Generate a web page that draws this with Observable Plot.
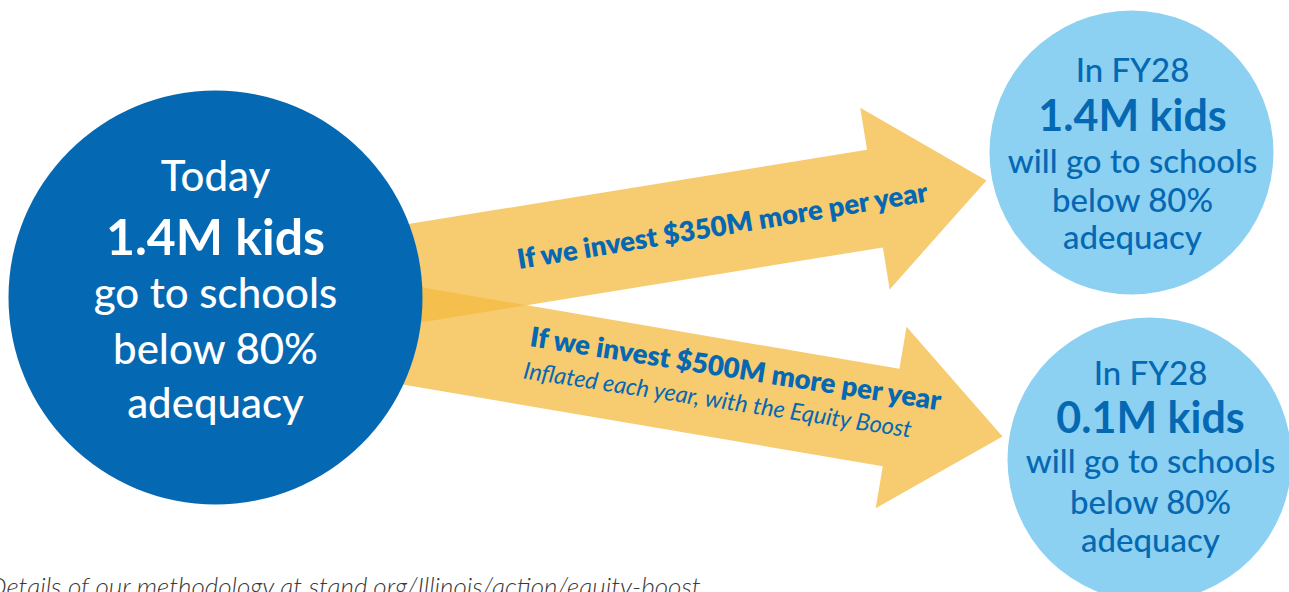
<!DOCTYPE html>
<html>
<head>
<meta charset="utf-8">
<script src="https://cdn.jsdelivr.net/npm/d3@7"></script>
<script src="https://cdn.jsdelivr.net/npm/@observablehq/plot@0.6"></script>
<style>
  html, body { margin: 0; padding: 0; background: #ffffff; }
  #chart { width: 1289px; height: 592px; overflow: hidden; }
</style>
</head>
<body>
<div id="chart"></div>
<script>
// ---------- DATA ----------
const stages = ["Today", "In FY28", "In FY28"];
const kidsMillions = [1.4, 1.4, 0.1];
const verbs = ["go to schools", "will go to schools", "will go to schools"];
const adequacyThreshold = 80;           // percent
const investments = [350, 500];         // $M more per year
const scenarioNotes = ["", "Inflated each year, with the Equity Boost"];
const caption = "Details of our methodology at stand.org/Illinois/action/equity-boost";

// ---------- LAYOUT (pixel space, y down) ----------
const W = 1289, H = 592;
const DARK = "#0568b3", LIGHT = "#8dd1f2", GOLD = "#f4bb44";
const FONT = "Lato, 'Open Sans', sans-serif";

const circles = [
  {cx: 215, cy: 297, r: 207, fill: DARK, color: "#ffffff", tx: 215,
   offs: [-107, -43, 10, 66, 120], sizes: [42, 50, 42, 42, 42]},
  {cx: 1131, cy: 152, r: 142, fill: LIGHT, color: DARK, tx: 1132,
   offs: [-71, -22, 20, 59, 96], sizes: [33, 43, 33, 33, 33]},
  {cx: 1149, cy: 459, r: 142, fill: LIGHT, color: DARK, tx: 1150,
   offs: [-75, -27, 13, 54, 92], sizes: [33, 43, 33, 33, 33]}
];

const arrowsGeom = [
  {from: [215, 305], to: [986, 180]},
  {from: [215, 302], to: [1002, 436]}
];
const SHAFT = 99, HEAD_LEN = 113, HEAD_HALF = 92;

function arrowPolygon(g, id) {
  const [x0, y0] = g.from, [x1, y1] = g.to;
  const L = Math.hypot(x1 - x0, y1 - y0);
  const ux = (x1 - x0) / L, uy = (y1 - y0) / L;
  const nx = uy, ny = -ux;
  const bx = x1 - HEAD_LEN * ux, by = y1 - HEAD_LEN * uy;
  const s = SHAFT / 2;
  return [
    [x0 + s * nx, y0 + s * ny],
    [bx + s * nx, by + s * ny],
    [bx + HEAD_HALF * nx, by + HEAD_HALF * ny],
    [x1, y1],
    [bx - HEAD_HALF * nx, by - HEAD_HALF * ny],
    [bx - s * nx, by - s * ny],
    [x0 - s * nx, y0 - s * ny]
  ].map(([x, y], i) => ({id, i, x, y}));
}
const arrowPts = arrowsGeom.flatMap((g, k) => arrowPolygon(g, k));

const circleText = circles.flatMap((c, i) => {
  const lines = [
    stages[i],
    `${kidsMillions[i].toFixed(1)}M kids`,
    verbs[i],
    `below ${adequacyThreshold}%`,
    "adequacy"
  ];
  return lines.map((t, j) => ({
    t, x: c.tx, y: c.cy + c.offs[j], size: c.sizes[j],
    weight: j === 1 ? 700 : 500, color: c.color
  }));
});

const arrowLabels = [
  {t: `If we invest $${investments[0]}M more per year`, x: 722, y: 226, rot: -9.4, size: 27.5, weight: 800, style: "normal"},
  {t: `If we invest $${investments[1]}M more per year`, x: 735, y: 369, rot: 8.9, size: 27.5, weight: 800, style: "normal"},
  {t: scenarioNotes[1], x: 717, y: 400, rot: 8.7, size: 23.5, weight: 400, style: "italic"}
];

const plot = Plot.plot({
  width: W, height: H,
  margin: 0,
  x: {domain: [0, W], range: [0, W], axis: null},
  y: {domain: [0, H], range: [0, H], axis: null},
  r: {type: "identity"},
  style: {background: "#ffffff", fontFamily: FONT},
  marks: [
    ...[0, 1].map(k => Plot.line(arrowPts.filter(d => d.id === k), {
      x: "x", y: "y", curve: "linear-closed",
      fill: GOLD, fillOpacity: 0.77, stroke: "none"
    })),
    Plot.dot(circles, {x: "cx", y: "cy", r: "r", fill: "fill", stroke: "none"}),
    ...circleText.map(d => Plot.text([d], {
      x: "x", y: "y", text: "t", fill: d.color, fontSize: d.size,
      fontWeight: d.weight, textAnchor: "middle", lineAnchor: "bottom", fontFamily: FONT
    })),
    ...arrowLabels.map(d => Plot.text([d], {
      x: "x", y: "y", text: "t", fill: DARK, fontSize: d.size, fontWeight: d.weight,
      fontStyle: d.style, rotate: d.rot, textAnchor: "middle", lineAnchor: "middle", fontFamily: FONT
    })),
    Plot.text([caption], {
      x: () => 700, y: () => 595, text: d => d, fill: "#3a3a3a", fontSize: 26,
      fontStyle: "italic", fontWeight: 300, textAnchor: "end", lineAnchor: "bottom", fontFamily: FONT
    })
  ]
});
plot.querySelectorAll("svg").forEach(s => s.style.overflow = "hidden");
document.getElementById("chart").appendChild(plot);
</script>
</body>
</html>
